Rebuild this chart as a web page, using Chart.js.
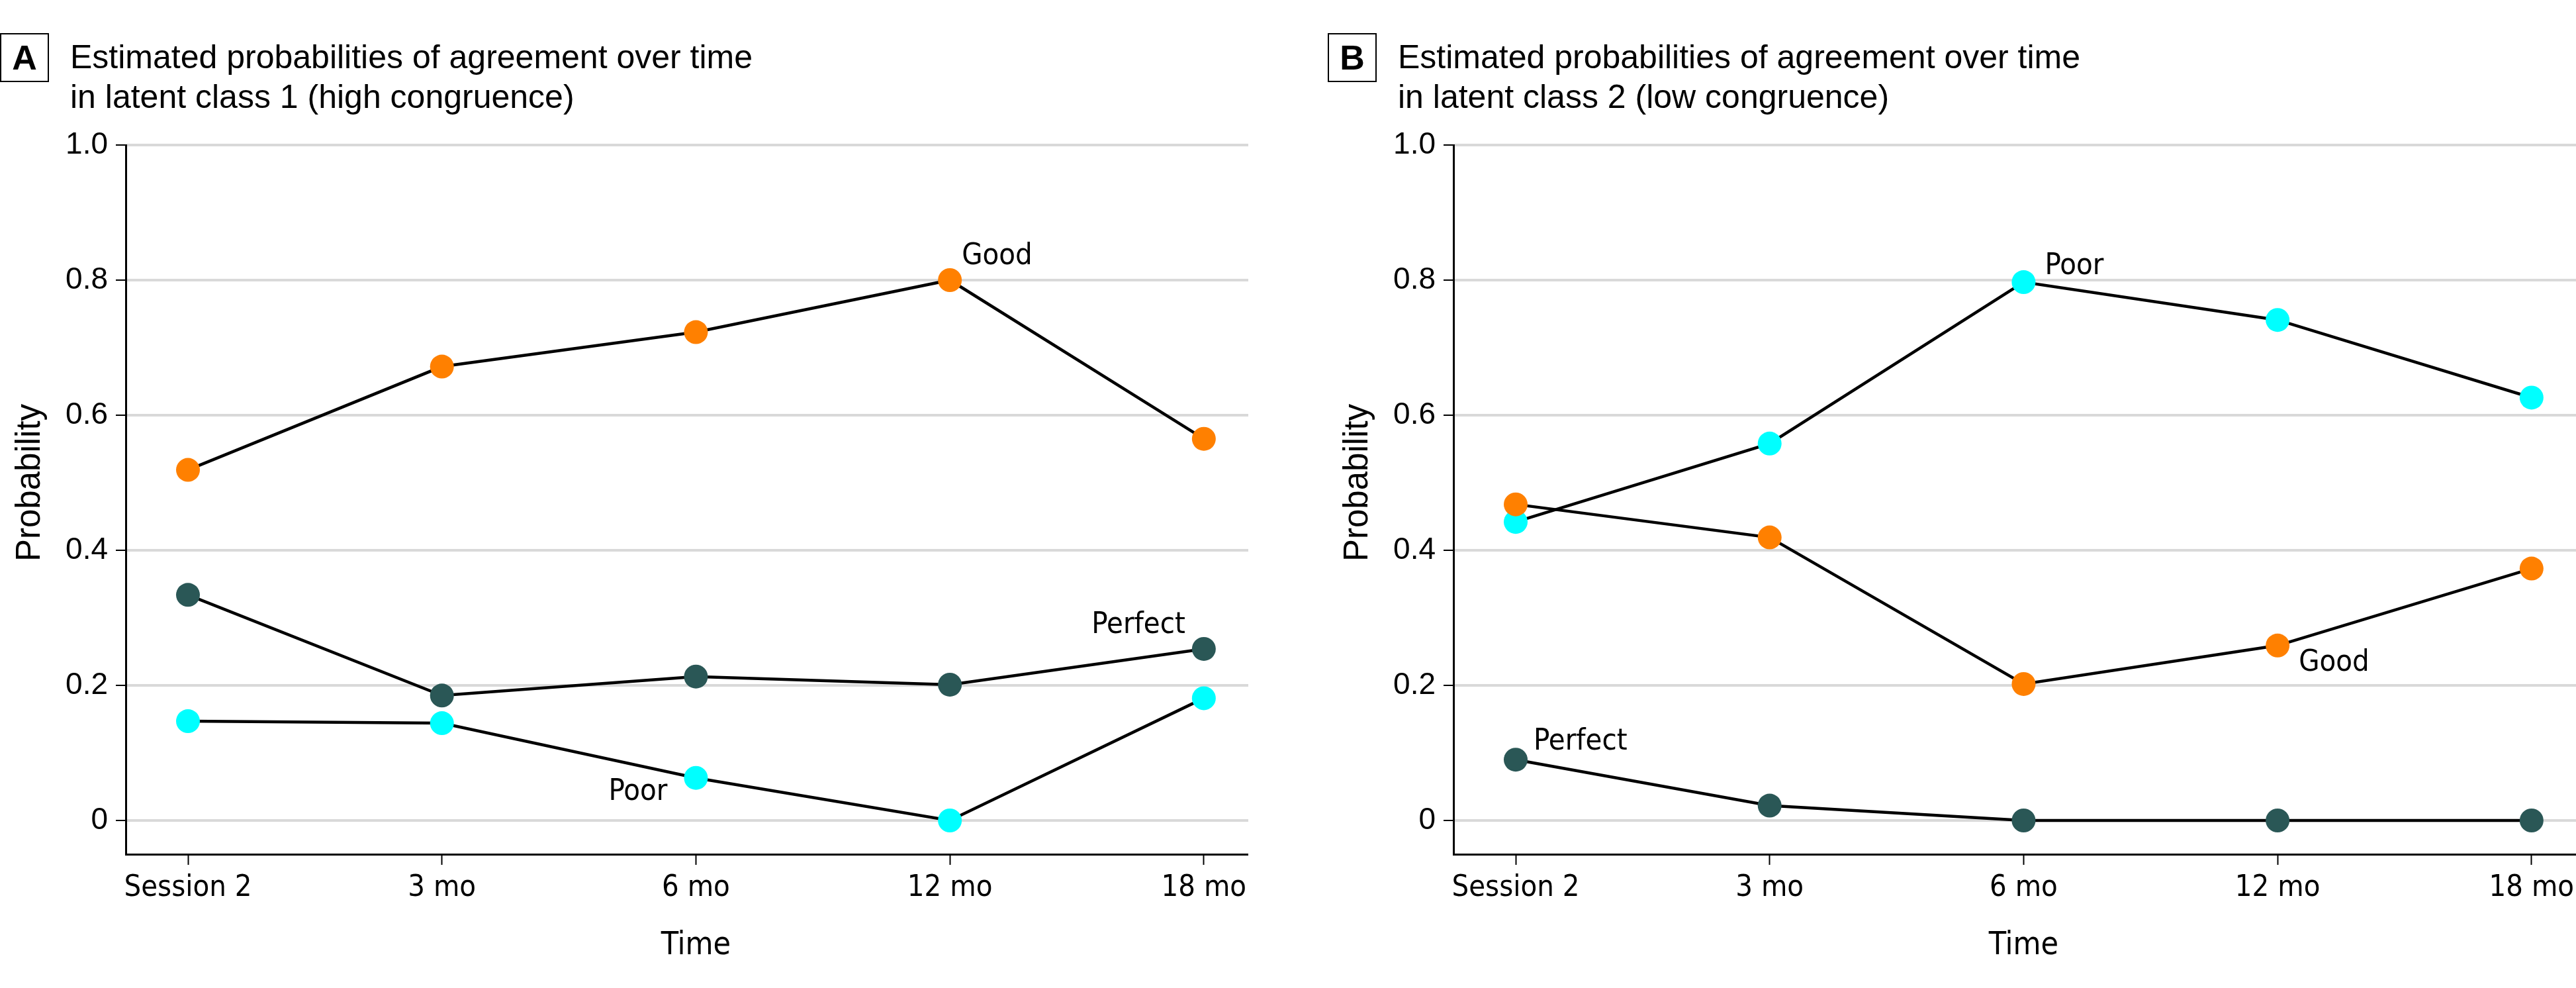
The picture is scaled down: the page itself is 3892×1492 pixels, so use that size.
<!DOCTYPE html>
<html>
<head>
<meta charset="utf-8">
<script src="https://cdn.jsdelivr.net/npm/chart.js@4.4.1/dist/chart.umd.min.js"></script>
<style>
  body { margin: 0; width: 3892px; height: 1492px; background: #fff; position: relative; overflow: hidden; }
  .panel { position: absolute; top: 0; width: 1886px; height: 1492px; }
  .panel canvas { position: absolute; left: 0; top: 0; }
  .tag { position: absolute; left: 0; top: 50px; width: 70px; height: 70px; border: 2px solid #000;
         font: bold 52px 'Liberation Sans', Arial, sans-serif; display: flex; align-items: center; justify-content: center; }
  .title { position: absolute; left: 106px; top: 56px; font: 50px/60px 'Liberation Sans', Arial, sans-serif; color: #000; white-space: nowrap; }
</style>
</head>
<body>
<div class="panel" style="left:0">
  <div class="tag">A</div>
  <div class="title">Estimated probabilities of agreement over time<br>in latent class 1 (high congruence)</div>
  <canvas id="chartA" width="1886" height="1492"></canvas>
</div>
<div class="panel" style="left:2006px">
  <div class="tag">B</div>
  <div class="title">Estimated probabilities of agreement over time<br>in latent class 2 (low congruence)</div>
  <canvas id="chartB" width="1886" height="1492"></canvas>
</div>
<script>
// data
const timeLabels = ['Session 2', '3 mo', '6 mo', '12 mo', '18 mo'];
const yTickValues = [0, 0.2, 0.4, 0.6, 0.8, 1.0];
const yTickLabels = ['0', '0.2', '0.4', '0.6', '0.8', '1.0'];

// latent class 1 (high congruence)
const goodA = [0.519, 0.672, 0.723, 0.800, 0.565];
const perfectA = [0.334, 0.185, 0.213, 0.201, 0.254];
const poorA = [0.147, 0.144, 0.063, 0.0, 0.181];

// latent class 2 (low congruence)
const goodB = [0.468, 0.419, 0.202, 0.259, 0.373];
const perfectB = [0.090, 0.022, 0.0, 0.0, 0.0];
const poorB = [0.442, 0.558, 0.797, 0.741, 0.626];

const colors = { Good: '#FF8000', Perfect: '#2A5756', Poor: '#00FFFF' };

const NARROW = "'DejaVu Sans Condensed', 'DejaVu Sans', sans-serif";
const REGULAR = "'Liberation Sans', Arial, sans-serif";

function series(name, values) {
  return {
    label: name,
    data: values.map((v, i) => ({ x: i, y: v })),
    borderColor: '#000',
    borderWidth: 4.5,
    pointBackgroundColor: colors[name],
    pointBorderWidth: 0,
    pointRadius: 18,
    pointHoverRadius: 18,
    tension: 0,
    fill: false
  };
}

// in-plot series labels, placed next to one point of each series
const panelText = {
  id: 'panelText',
  afterDatasetsDraw(chart, args, opts) {
    const { ctx, scales: { x, y } } = chart;
    ctx.save();
    ctx.fillStyle = '#000';
    ctx.textBaseline = 'alphabetic';
    ctx.font = '45px ' + NARROW;
    opts.labels.forEach(l => {
      const pt = chart.getDatasetMeta(l.series).data[l.point];
      ctx.textAlign = l.align;
      ctx.fillText(l.text, pt.x + l.dx, pt.y + l.dy);
    });

    // axis titles
    ctx.font = '48px ' + NARROW;
    ctx.textAlign = 'center';
    ctx.fillText('Time', x.getPixelForValue(2), x.top + 151);

    ctx.font = '51px ' + REGULAR;
    ctx.translate(60, y.getPixelForValue(0.5));
    ctx.rotate(-Math.PI / 2);
    ctx.fillText('Probability', 0, 0);
    ctx.restore();
  }
};

function makeChart(id, good, perfect, poor, labels) {
  new Chart(document.getElementById(id), {
    type: 'line',
    data: {
      datasets: [series('Good', good), series('Poor', poor), series('Perfect', perfect)]
    },
    options: {
      responsive: false,
      animation: false,
      devicePixelRatio: 1,
      layout: { autoPadding: false, padding: { top: 219, left: 0, right: 0, bottom: 0 } },
      plugins: {
        legend: { display: false },
        tooltip: { enabled: false },
        panelText: { labels: labels }
      },
      scales: {
        x: {
          type: 'linear',
          min: -0.245,
          max: 4.175,
          afterBuildTicks: s => { s.ticks = timeLabels.map((t, i) => ({ value: i })); },
          afterFit: s => { s.height = 202; s.paddingLeft = 0; s.paddingRight = 0; },
          ticks: {
            callback: v => timeLabels[v],
            color: '#000',
            padding: 8,
            maxRotation: 0,
            autoSkip: false,
            font: { family: NARROW, size: 45, lineHeight: 1.2 }
          },
          grid: { drawOnChartArea: false, drawTicks: true, tickLength: 16, tickColor: '#000', tickWidth: 2 },
          border: { display: true, color: '#000', width: 3 }
        },
        y: {
          min: -0.05,
          max: 1.0,
          afterBuildTicks: s => { s.ticks = yTickValues.map(v => ({ value: v })); },
          afterFit: s => { s.width = 190; s.paddingTop = 0; s.paddingBottom = 0; },
          ticks: {
            callback: (v, i) => yTickLabels[i],
            color: '#000',
            padding: 12,
            font: { family: REGULAR, size: 46 }
          },
          grid: { color: '#D9D9D9', lineWidth: 4, drawTicks: true, tickLength: 15, tickColor: '#000', tickWidth: 2 },
          border: { display: true, color: '#000', width: 3 }
        }
      }
    },
    plugins: [panelText]
  });
}

makeChart('chartA', goodA, perfectA, poorA, [
  { text: 'Good', series: 0, point: 3, dx: 18, dy: -24, align: 'left' },
  { text: 'Perfect', series: 2, point: 4, dx: -28, dy: -24, align: 'right' },
  { text: 'Poor', series: 1, point: 2, dx: -43, dy: 33, align: 'right' }
]);
makeChart('chartB', goodB, perfectB, poorB, [
  { text: 'Poor', series: 1, point: 2, dx: 32, dy: -12, align: 'left' },
  { text: 'Good', series: 0, point: 3, dx: 32, dy: 38, align: 'left' },
  { text: 'Perfect', series: 2, point: 0, dx: 27, dy: -15, align: 'left' }
]);
</script>
</body>
</html>
